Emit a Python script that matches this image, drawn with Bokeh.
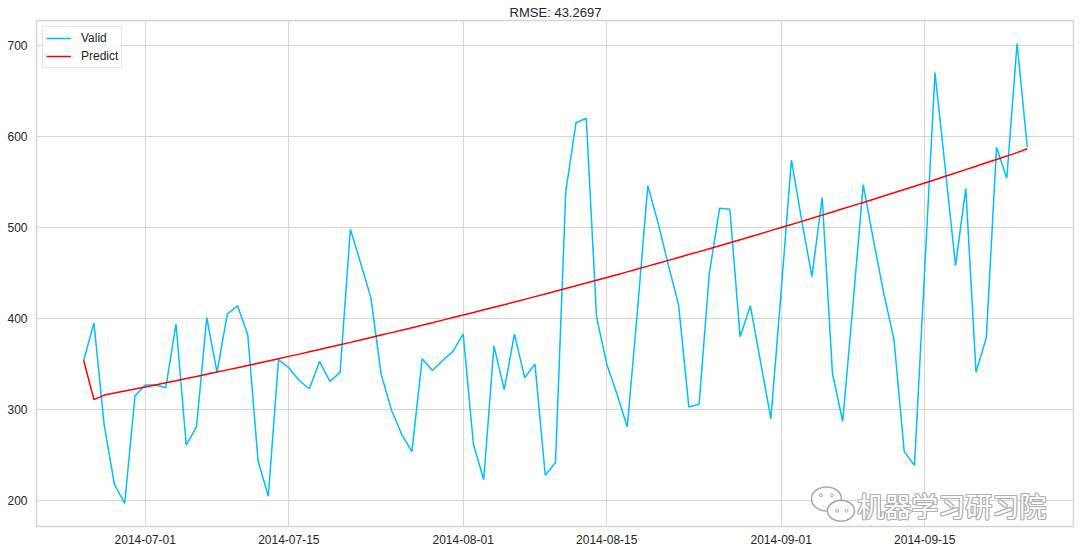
import pandas as pd
from bokeh.plotting import figure
from bokeh.models import Range1d, FixedTicker, DatetimeTickFormatter, Label
from bokeh.embed import file_html
from bokeh.resources import INLINE

# ---------------- data ----------------
start_date = "2014-06-25"
valid = [
    354, 395, 283, 218, 197, 315,                                   # Jun 25-30
    327, 327, 324, 394, 261, 281, 401, 341, 405, 414,               # Jul 1-10
    382, 244, 205, 355, 346, 332, 323, 353, 331, 341,               # Jul 11-20
    498, 461, 423, 339, 300, 273, 254, 356, 343, 354, 364,          # Jul 21-31
    383, 262, 223, 370, 322, 383, 335, 350, 228, 242,               # Aug 1-10
    539, 615, 620, 402, 350, 317, 281, 410, 546, 505,               # Aug 11-20
    459, 415, 303, 306, 450, 521, 520, 380, 414, 352, 290,          # Aug 21-31
    430, 574, 508, 446, 533, 340, 287, 415, 547, 486,               # Sep 1-10
    428, 377, 254, 239, 455, 670, 565, 458, 543, 341,               # Sep 11-20
    379, 588, 554, 702, 588,                                        # Sep 21-25
]
predict = [
    354.0, 311.0, 316.0, 318.2, 320.4, 322.7,                                   # Jun 25-30
    324.9, 327.2, 329.5, 331.8, 334.2, 336.5, 338.9, 341.3, 343.7, 346.1,       # Jul 1-10
    348.5, 351.0, 353.5, 356.0, 358.5, 361.0, 363.6, 366.1, 368.7, 371.3,       # Jul 11-20
    373.9, 376.6, 379.2, 381.9, 384.6, 387.3, 390.0, 392.7, 395.5, 398.3, 401.1,  # Jul 21-31
    403.9, 406.7, 409.6, 412.4, 415.3, 418.2, 421.1, 424.1, 427.0, 430.0,       # Aug 1-10
    433.0, 436.0, 439.0, 442.1, 445.1, 448.2, 451.3, 454.4, 457.6, 460.7,       # Aug 11-20
    463.9, 467.1, 470.3, 473.5, 476.7, 480.0, 483.3, 486.6, 489.9, 493.2, 496.6,  # Aug 21-31
    499.9, 503.3, 506.7, 510.1, 513.6, 517.0, 520.5, 524.0, 527.5, 531.0,       # Sep 1-10
    534.6, 538.1, 541.7, 545.3, 548.9, 552.5, 556.2, 559.8, 563.5, 567.2,       # Sep 11-20
    571.0, 574.7, 578.4, 582.2, 586.5,                                          # Sep 21-25
]
title_text = "RMSE: 43.2697"
series_names = ["Valid", "Predict"]
x_tick_dates = ["2014-07-01", "2014-07-15", "2014-08-01", "2014-08-15", "2014-09-01", "2014-09-15"]
y_ticks = [200, 300, 400, 500, 600, 700]
watermark = "机器学习研习院"

# ---------------- figure ----------------
dates = pd.date_range(start_date, periods=len(valid), freq="D")
span = dates[-1] - dates[0]
x0 = (dates[0] - span * 0.05).to_pydatetime()
x1 = (dates[-1] + span * 0.05).to_pydatetime()
ymin = min(min(valid), min(predict))
ymax = max(max(valid), max(predict))
yspan = ymax - ymin

FONT = "Liberation Sans"
TXT = "#262626"
GRID = "#d6d6d6"

p = figure(
    frame_width=1038, height=546,
    x_axis_type="datetime",
    x_range=Range1d(x0, x1),
    y_range=Range1d(ymin - 0.05 * yspan, ymax + 0.05 * yspan),
    output_backend="svg", toolbar_location=None,
    min_border_left=36, min_border_right=0, min_border_top=20, min_border_bottom=0,
    background_fill_color="white", border_fill_color="white",
)

p.title.text = title_text
p.title.align = "center"
p.title.text_font = FONT
p.title.text_font_size = "13px"
p.title.text_font_style = "normal"
p.title.text_color = TXT
p.title.standoff = 2

p.outline_line_color = "#d4d4d4"
p.outline_line_width = 1.5

xt = FixedTicker(ticks=[pd.Timestamp(d).value / 1e6 for d in x_tick_dates])
yt = FixedTicker(ticks=y_ticks)
p.xaxis.ticker = xt
p.yaxis.ticker = yt
p.xgrid.ticker = xt
p.ygrid.ticker = yt
p.xaxis.formatter = DatetimeTickFormatter(days="%Y-%m-%d", months="%Y-%m-%d", years="%Y-%m-%d")

for ax in (p.xaxis, p.yaxis):
    ax.axis_line_color = None
    ax.major_tick_line_color = None
    ax.minor_tick_line_color = None
    ax.major_tick_out = 0
    ax.major_tick_in = 0
    ax.minor_tick_out = 0
    ax.minor_tick_in = 0
    ax.major_label_text_font = FONT
    ax.major_label_text_font_size = "12px"
    ax.major_label_text_color = TXT
p.xaxis.major_label_standoff = 8
p.yaxis.major_label_standoff = 9

p.grid.grid_line_color = GRID
p.grid.grid_line_width = 1

p.line(dates, valid, line_color="#00BFFF", line_width=1.5, legend_label=series_names[0])
p.line(dates, predict, line_color="#FF0000", line_width=1.5, legend_label=series_names[1])

lg = p.legend[0]
lg.location = "top_left"
lg.margin = 6
lg.padding = 3
lg.spacing = 2
lg.glyph_width = 25
lg.glyph_height = 16
lg.label_height = 16
lg.label_standoff = 10
lg.label_text_font = FONT
lg.label_text_font_size = "12px"
lg.label_text_color = TXT
lg.border_line_color = "#cccccc"
lg.border_line_width = 1
lg.background_fill_alpha = 0.8

# ---------------- watermark ----------------
def ms(s):
    return pd.Timestamp(s).value / 1e6

bub_x = [ms("2014-09-05 10:00"), ms("2014-09-06 20:00")]
bub_y = [202, 189]
p.ellipse(x=bub_x, y=bub_y, width=[30, 27], height=[24, 21],
          width_units="screen", height_units="screen",
          fill_color="white", fill_alpha=0.9, line_color="#a8a8a8", line_width=1.5)
p.scatter(x=[ms("2014-09-04 21:00"), ms("2014-09-05 23:00"), ms("2014-09-06 11:00"), ms("2014-09-07 09:00")],
          y=[206, 206, 189, 189], size=3, marker="circle",
          fill_color="white", line_color="#a8a8a8", line_width=1)

wx = ms("2014-09-08 10:00")
wy = 194.5
for dx, dy in [(-1, 0), (1, 0), (0, -1), (0, 1), (-1, -1), (1, 1), (-1, 1), (1, -1)]:
    p.add_layout(Label(x=wx, y=wy, text=watermark, x_offset=dx, y_offset=dy,
                       text_font="Noto Sans CJK SC", text_font_size="27px",
                       text_color="#b0b0b0", text_baseline="middle", text_align="left"))
p.add_layout(Label(x=wx, y=wy, text=watermark,
                   text_font="Noto Sans CJK SC", text_font_size="27px",
                   text_color="white", text_baseline="middle", text_align="left"))

open("out.html", "w").write(file_html(p, INLINE))
